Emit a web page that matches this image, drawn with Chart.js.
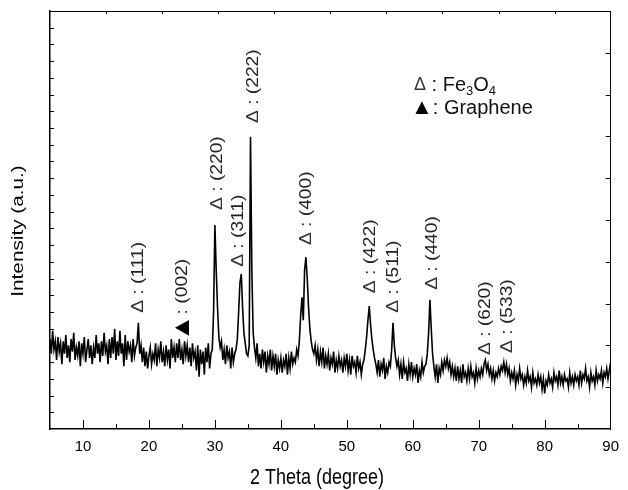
<!DOCTYPE html>
<html>
<head>
<meta charset="utf-8">
<script src="https://cdn.jsdelivr.net/npm/chart.js@4.4.1/dist/chart.umd.min.js"></script>
<style>
html,body{margin:0;padding:0;background:#fff;}
canvas{display:block;}
</style>
</head>
<body>
<canvas id="c" width="628" height="490"></canvas>
<script>
// ---- DATA ----
const thetaStart = 5;      // 2θ of first sample (degree)
const thetaStep = 0.2;     // sampling step (degree)
const intensity = [
// 5.0-7.0
21.5,18.0,23.5,19.0,21.0,16.5,22.0,18.5,20.5,15.5,21.0,
// 7.2-9.0
18.0,22.5,17.0,20.0,16.0,21.5,18.5,23.0,16.5,19.5,
// 9.2-11.0
17.5,21.0,15.0,20.5,18.0,22.0,16.0,19.0,21.5,17.0,
// 11.2-13.0
20.0,15.5,19.5,17.0,22.5,18.0,20.5,16.0,21.0,17.5,
// 13.2-15.0
23.0,18.5,20.0,15.5,21.5,17.0,22.0,18.0,24.0,16.5,
// 15.2-17.0
21.0,17.5,23.5,18.0,20.5,15.0,22.5,16.5,21.0,18.5,
// 17.2-18.0
20.0,16.0,21.5,17.5,19.5,
// 18.2-18.6 (111)
20.5,25.4,18.0,
// 18.8-20.0
20.0,16.0,19.5,15.0,18.5,14.5,17.5,
// 20.2-22.0
19.5,15.5,18.0,16.5,20.5,15.0,19.0,17.0,21.0,16.0,
// 22.2-24.0
18.5,15.0,20.0,16.5,19.0,14.5,21.5,17.0,19.5,16.0,
// 24.2-26.0
20.5,17.0,21.5,16.5,19.0,15.5,21.0,17.5,20.0,16.0,
// 26.2-28.0
19.5,15.0,20.5,17.0,18.5,14.0,20.0,12.5,19.0,15.5,
// 28.2-29.6
18.5,13.0,19.5,16.0,20.5,14.5,18.0,19.0,
// 29.8-30.8 (220)
28.0,48.8,38.0,29.0,22.0,19.5,
// 31.0-33.0
21.0,16.5,19.0,15.5,20.0,17.0,18.5,14.5,19.5,16.0,18.0,
// 33.2-35.2 (311)
19.0,21.5,28.0,35.0,37.1,29.0,23.0,20.5,18.0,17.5,20.0,
// 35.4-36.0 (222)
69.9,38.0,23.0,19.5,
// 36.2-38.0
17.0,20.5,15.0,18.0,14.5,19.0,16.0,18.5,13.5,17.5,
// 38.2-40.0
15.5,19.0,14.0,17.5,15.0,18.0,13.0,16.5,14.5,17.0,
// 40.2-42.0
13.5,16.5,15.0,18.0,13.0,17.0,14.5,18.5,15.5,17.0,
// 42.2-42.4
16.0,19.0,
// 42.6-45.2 (400)
17.5,21.0,27.0,31.5,26.0,38.0,41.1,36.0,29.0,24.0,21.0,19.0,18.0,20.0,
// 45.4-47.0
16.5,19.0,15.0,18.5,16.0,19.5,14.5,17.5,15.5,
// 47.2-49.0
18.0,14.0,17.0,15.5,18.5,13.5,16.5,14.5,17.5,15.0,
// 49.2-51.0
16.5,13.5,17.0,15.0,18.0,14.0,16.5,13.0,17.5,15.0,
// 51.2-52.4
16.0,13.5,17.5,14.5,16.0,13.0,15.5,
// 52.6-54.4 (422)
16.5,19.0,22.0,26.0,29.4,25.0,21.5,19.0,17.0,15.5,
// 54.6-56.4
13.5,16.5,12.5,15.5,14.0,17.0,12.0,15.0,13.5,16.0,
// 56.6-57.6 (511)
15.0,19.0,25.4,20.0,17.0,15.0,
// 57.8-59.6
16.5,13.0,15.5,12.0,16.0,13.5,14.5,11.5,15.5,13.0,
// 59.8-61.8
16.0,12.5,14.5,13.0,15.5,11.0,14.0,12.5,16.0,13.5,15.0,
// 62.0-63.4 (440)
15.5,18.0,23.0,30.9,24.0,18.0,15.0,12.5,
// 63.6-65.0
15.5,11.0,14.5,13.0,16.0,14.0,16.5,15.0,
// 65.2-66.0
17.0,14.5,16.0,13.0,15.0,
// 66.2-68.0
12.5,14.5,11.5,15.0,12.0,14.0,11.0,15.5,12.5,13.5,
// 68.2-70.0
11.5,14.5,12.0,15.0,12.5,13.5,11.0,14.5,12.0,14.0,
// 70.2-71.8 (620)
12.5,14.5,13.0,15.5,16.5,14.0,15.5,13.0,14.5,
// 72.0-73.4
12.0,14.0,11.5,13.5,12.5,14.5,13.0,15.0,
// 73.6-74.4 (533)
14.0,16.0,13.5,15.5,13.0,
// 74.6-76.4
14.5,11.5,13.5,12.0,14.0,10.5,13.0,11.5,14.5,12.0,
// 76.6-78.4
13.0,10.5,12.5,11.0,14.0,11.5,12.5,10.0,13.5,11.0,
// 78.6-80.4
12.0,10.5,13.0,11.0,12.5,9.5,12.0,8.5,11.5,10.5,
// 80.6-82.4
13.0,11.0,12.0,10.0,13.5,11.5,12.5,10.5,14.0,11.0,
// 82.6-84.4
12.5,10.5,13.0,11.5,12.0,10.0,13.5,11.0,12.5,10.5,
// 84.6-86.4
13.0,11.5,12.5,10.5,14.0,11.0,13.0,12.0,14.5,11.5,
// 86.6-88.4
12.5,10.0,13.5,11.5,12.5,10.5,14.0,11.5,13.0,12.0,
// 88.6-90.0
14.0,11.0,13.5,12.5,14.5,12.0,14.0,16.0
];

// Peak annotations: label, phase, 2θ position, intensity at label start
const peakLabels = ['(111)','(002)','(220)','(311)','(222)','(400)','(422)','(511)','(440)','(620)','(533)'];
const peakPhase  = ['Fe3O4','Graphene','Fe3O4','Fe3O4','Fe3O4','Fe3O4','Fe3O4','Fe3O4','Fe3O4','Fe3O4','Fe3O4'];
const peakTheta  = [18.4, 25.1, 30.3, 33.6, 35.8, 43.9, 53.5, 57.1, 62.9, 71.0, 74.4];
const peakLabelY = [27.8, 21.0, 52.4, 38.8, 73.2, 44.0, 32.5, 27.8, 33.3, 17.7, 18.2];

const xTickValues = [10,20,30,40,50,60,70,80,90];
const xTitle = '2 Theta (degree)';
const yTitle = 'Intensity (a.u.)';

// ---- BUILD ----
const points = intensity.map((v, i) => ({x: +(thetaStart + i * thetaStep).toFixed(2), y: v}));
const FONT = '"Liberation Sans", Arial, Helvetica, sans-serif';

function drawParts(ctx, parts, x, y, rot, stretch) {
  ctx.save();
  ctx.translate(x, y);
  ctx.rotate(rot);
  ctx.scale(stretch, 1);
  ctx.textAlign = 'left';
  ctx.textBaseline = 'middle';
  let cx = 0;
  for (const p of parts) {
    ctx.font = p.size + 'px ' + FONT;
    ctx.fillStyle = p.color || '#111';
    ctx.fillText(p.t, cx, p.dy || 0);
    cx += ctx.measureText(p.t).width + (p.gap || 0);
  }
  ctx.restore();
}

const decor = {
  id: 'decor',
  afterDraw(chart) {
    const {ctx, chartArea: a, scales} = chart;
    const xs = scales.x, ys = scales.y;
    ctx.save();
    ctx.strokeStyle = '#000';
    ctx.lineWidth = 1;
    const line = (x1, y1, x2, y2) => { ctx.beginPath(); ctx.moveTo(x1, y1); ctx.lineTo(x2, y2); ctx.stroke(); };
    for (let v = 10; v < 90; v += 5) {
      const px = Math.round(xs.getPixelForValue(v)) + 0.5;
      line(px, a.bottom, px, a.bottom - (v % 10 === 0 ? 9 : 5));
    }
    const w = a.right - a.left, h = a.bottom - a.top;
    for (let i = 1; i < 10; i++) {
      const px = Math.round(a.left + w * i / 10) + 0.5;
      line(px, a.top, px, a.top + 3);
      const py = Math.round(a.top + h * i / 10) + 0.5;
      line(a.right, py, a.right - 5, py);
    }
    for (let i = 1; i < 25; i++) {
      const py = Math.round(a.top + h * i / 25) + 0.5;
      line(a.left, py, a.left + 4, py);
    }
    ctx.restore();

    // peak labels
    for (let i = 0; i < peakLabels.length; i++) {
      const px = xs.getPixelForValue(peakTheta[i]);
      const py = ys.getPixelForValue(peakLabelY[i]);
      const parts = peakPhase[i] === 'Graphene'
        ? [{t: '\u25B2', size: 24, color: '#000'}, {t: ': ' + peakLabels[i], size: 17, color: '#222'}]
        : [{t: '\u0394', size: 17, color: '#333'}, {t: ' : ' + peakLabels[i], size: 17, color: '#222'}];
      drawParts(ctx, parts, px, py, -Math.PI / 2, 1.13);
    }

    // legend
    const lx = a.left + 364, ly1 = a.top + 74, ly2 = a.top + 97;
    drawParts(ctx, [
      {t: '\u0394', size: 18, color: '#333'},
      {t: ' : Fe', size: 20},
      {t: '3', size: 13, dy: 6},
      {t: 'O', size: 20},
      {t: '4', size: 13, dy: 6}
    ], lx, ly1, 0, 1);
    drawParts(ctx, [
      {t: '\u25B2', size: 22, color: '#000'},
      {t: ': Graphene', size: 20}
    ], lx - 3, ly2, 0, 1);

    // axis titles
    ctx.save();
    ctx.fillStyle = '#000';
    ctx.font = '18px ' + FONT;
    ctx.textAlign = 'center';
    ctx.textBaseline = 'alphabetic';
    ctx.translate(317, 484);
    ctx.scale(1, 1.2);
    ctx.fillText(xTitle, 0, 0);
    ctx.restore();

    ctx.save();
    ctx.fillStyle = '#000';
    ctx.font = '17px ' + FONT;
    ctx.textAlign = 'center';
    ctx.textBaseline = 'middle';
    ctx.translate(18, 231);
    ctx.rotate(-Math.PI / 2);
    ctx.scale(1.22, 1);
    ctx.fillText(yTitle, 0, 0);
    ctx.restore();
  }
};

const hiddenAxis = (pos, size, horizontal) => ({
  type: 'linear',
  position: pos,
  min: horizontal ? 5 : 0,
  max: horizontal ? 90 : 100,
  ticks: {display: false},
  grid: {display: true, drawOnChartArea: false, drawTicks: false},
  border: {display: true, color: '#000', width: 1},
  afterFit(s) { if (horizontal) s.height = size; else s.width = size; }
});

new Chart(document.getElementById('c'), {
  type: 'line',
  data: {
    datasets: [{
      data: points,
      borderColor: '#000',
      borderWidth: 1.6,
      pointRadius: 0,
      tension: 0,
      fill: false
    }]
  },
  options: {
    responsive: false,
    animation: false,
    events: [],
    layout: {padding: 0},
    plugins: {legend: {display: false}, tooltip: {enabled: false}},
    scales: {
      x: {
        type: 'linear',
        position: 'bottom',
        min: 5, max: 90,
        afterBuildTicks(s) { s.ticks = xTickValues.map(v => ({value: v})); },
        ticks: {
          color: '#000',
          font: {family: FONT, size: 15},
          padding: 9,
          maxRotation: 0,
          autoSkip: false
        },
        grid: {display: true, drawOnChartArea: false, drawTicks: false},
        border: {display: true, color: '#000', width: 1.5},
        afterFit(s) { s.height = 61; }
      },
      x2: hiddenAxis('top', 11, true),
      y: Object.assign(hiddenAxis('left', 50, false), {border: {display: true, color: '#000', width: 1.5}}),
      y2: hiddenAxis('right', 10, false)
    }
  },
  plugins: [decor]
});
</script>
</body>
</html>
